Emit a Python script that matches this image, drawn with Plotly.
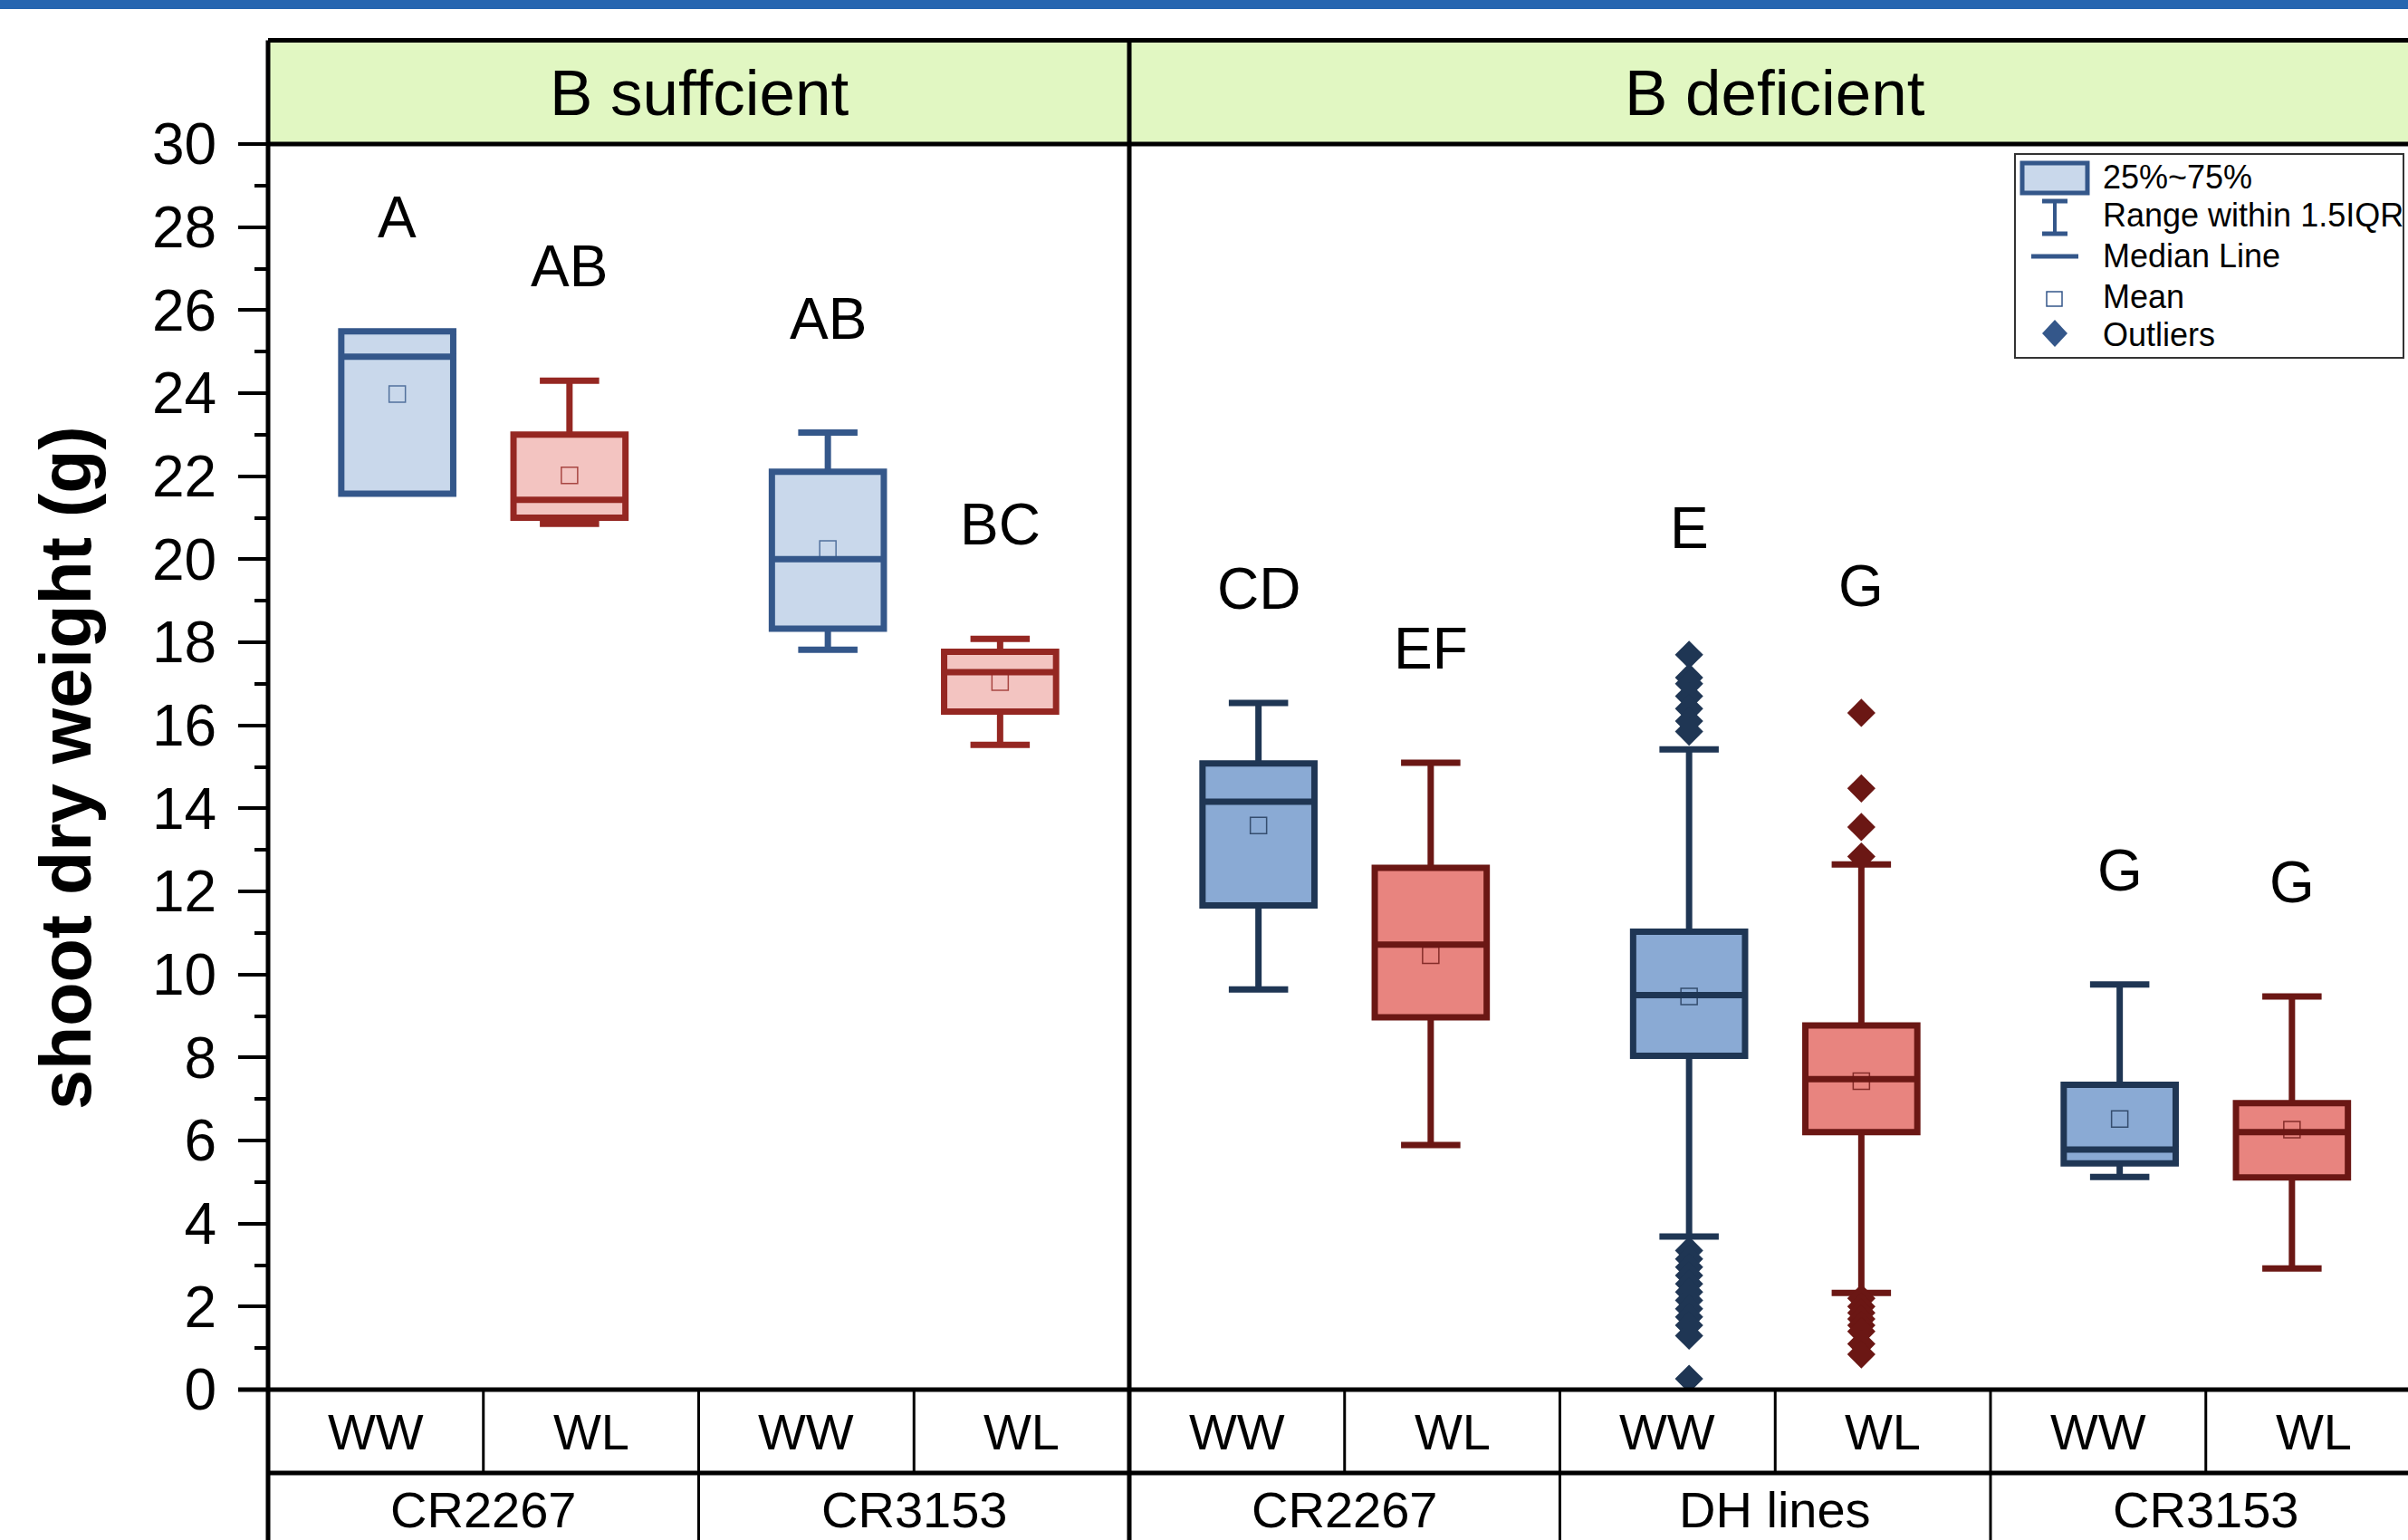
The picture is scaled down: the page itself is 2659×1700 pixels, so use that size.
import plotly.graph_objects as go

# ---------------- data ----------------
conditions = ["WW", "WL", "WW", "WL", "WW", "WL", "WW", "WL", "WW", "WL"]
genotypes = ["CR2267", "CR3153", "CR2267", "DH lines", "CR3153"]
treatments = ["B suffcient", "B deficient"]
letters = ["A", "AB", "AB", "BC", "CD", "EF", "E", "G", "G", "G"]

q1 = [21.58, 21.00, 18.33, 16.33, 11.66, 8.97, 8.04, 6.20, 5.45, 5.11]
median = [24.88, 21.43, 20.00, 17.28, 14.16, 10.72, 9.50, 7.48, 5.78, 6.20]
q3 = [25.49, 23.00, 22.11, 17.77, 15.08, 12.57, 11.03, 8.77, 7.34, 6.90]
lower = [21.58, 20.85, 17.82, 15.53, 9.64, 5.89, 3.69, 2.33, 5.12, 2.92]
upper = [25.49, 24.30, 23.05, 18.08, 16.54, 15.10, 15.42, 12.65, 9.76, 9.47]
mean = [23.98, 22.02, 20.25, 17.04, 13.59, 10.46, 9.47, 7.43, 6.52, 6.26]

outliers_dh_ww = [17.70, 17.15, 17.0, 16.7, 16.4, 16.1, 15.85,
                  3.35, 3.15, 2.95, 2.75, 2.55, 2.35, 2.15, 1.95, 1.75, 1.55, 1.3, 0.26]
outliers_dh_wl = [16.3, 14.48, 13.55, 12.84,
                  2.2, 2.0, 1.85, 1.7, 1.55, 1.4, 1.1, 0.85]
outliers = [[], [], [], [], [], [], outliers_dh_ww, outliers_dh_wl, [], []]

# ---------------- styling ----------------
FONT = "Arial, Liberation Sans, sans-serif"
line_cols = {("suf", "WW"): "#34578a", ("suf", "WL"): "#952722",
             ("def", "WW"): "#1f3654", ("def", "WL"): "#6b1714"}
fill_cols = {("suf", "WW"): "#c9d8eb", ("suf", "WL"): "#f3c4c1",
             ("def", "WW"): "#8aaad4", ("def", "WL"): "#e8847f"}

W_PX, H_PX = 2659, 1700
L, T, B, R = 296, 159, 1534, 2659
PW, PH = R - L, B - T
CAT_W = 237.75


def px(xp):
    return (xp - L) / PW


def py(yp):
    return (B - yp) / PH


fig = go.Figure()

for i, cond in enumerate(conditions):
    panel = "suf" if i < 4 else "def"
    key = (panel, cond)
    xpos = i + (0.1 if cond == "WW" else -0.1)
    fig.add_trace(go.Box(
        x=[xpos], q1=[q1[i]], median=[median[i]], q3=[q3[i]],
        lowerfence=[lower[i]], upperfence=[upper[i]],
        width=0.52, whiskerwidth=0.53, boxpoints=False,
        line=dict(color=line_cols[key], width=7),
        fillcolor=fill_cols[key], showlegend=False, hoverinfo="skip"))
    fig.add_trace(go.Scatter(
        x=[xpos], y=[mean[i]], mode="markers", showlegend=False, hoverinfo="skip",
        marker=dict(symbol="square-open", size=18, color=line_cols[key],
                    line=dict(width=1.5, color=line_cols[key]), opacity=0.8)))
    if outliers[i]:
        fig.add_trace(go.Scatter(
            x=[xpos] * len(outliers[i]), y=outliers[i], mode="markers",
            showlegend=False, hoverinfo="skip",
            marker=dict(symbol="diamond", size=24, color=line_cols[key],
                        line=dict(width=0))))
    top = max([upper[i]] + outliers[i])
    gap = 3.05 if outliers[i] else 2.75
    fig.add_annotation(x=xpos, y=top + gap, text=letters[i], showarrow=False,
                       xref="x", yref="y", yanchor="middle",
                       font=dict(family=FONT, size=64, color="black"))

shapes = []
BLK = "black"
# top blue stripe
shapes.append(dict(type="rect", xref="paper", yref="paper", x0=px(0), x1=1,
                   y0=py(10), y1=py(0), fillcolor="#2766b0", line=dict(width=0), layer="above"))
# header band
shapes.append(dict(type="rect", xref="paper", yref="paper", x0=0, x1=1,
                   y0=1, y1=py(44.5), fillcolor="#e1f7c2", line=dict(width=0), layer="below"))
# header top line / header bottom line
for yy in [py(44.5), 1]:
    shapes.append(dict(type="line", xref="paper", yref="paper", x0=0, x1=1,
                       y0=yy, y1=yy, line=dict(color=BLK, width=5), layer="above"))
# y=0 line and table line
shapes.append(dict(type="line", xref="paper", yref="paper", x0=px(263), x1=1,
                   y0=0, y1=0, line=dict(color=BLK, width=5), layer="above"))
shapes.append(dict(type="line", xref="paper", yref="paper", x0=0, x1=1,
                   y0=py(1626), y1=py(1626), line=dict(color=BLK, width=5), layer="above"))
# left axis line (full height)
shapes.append(dict(type="line", xref="paper", yref="paper", x0=0, x1=0,
                   y0=py(1700), y1=py(44.5), line=dict(color=BLK, width=5), layer="above"))
# panel divider
shapes.append(dict(type="line", xref="x", yref="paper", x0=3.5, x1=3.5,
                   y0=py(1700), y1=py(44.5), line=dict(color=BLK, width=5), layer="above"))
# table separators
group_bounds = [1.5, 5.5, 7.5]
for k in range(9):
    b = k + 0.5
    if b == 3.5:
        continue
    y0 = py(1700) if b in group_bounds else py(1626)
    shapes.append(dict(type="line", xref="x", yref="paper", x0=b, x1=b,
                       y0=y0, y1=0, line=dict(color=BLK, width=3), layer="above"))

# legend box & symbols
LC = "#34578a"
shapes.append(dict(type="rect", xref="paper", yref="paper", x0=px(2225), x1=px(2654),
                   y0=py(395), y1=py(170), line=dict(color="#333333", width=2),
                   fillcolor="white", layer="above"))
shapes.append(dict(type="rect", xref="paper", yref="paper", x0=px(2233), x1=px(2305),
                   y0=py(213), y1=py(180), line=dict(color=LC, width=5),
                   fillcolor="#c9d8eb", layer="above"))
shapes.append(dict(type="line", xref="paper", yref="paper", x0=px(2269), x1=px(2269),
                   y0=py(258), y1=py(222), line=dict(color=LC, width=4), layer="above"))
for yy in [222, 258]:
    shapes.append(dict(type="line", xref="paper", yref="paper", x0=px(2255), x1=px(2283),
                       y0=py(yy), y1=py(yy), line=dict(color=LC, width=5), layer="above"))
shapes.append(dict(type="line", xref="paper", yref="paper", x0=px(2243), x1=px(2295),
                   y0=py(283), y1=py(283), line=dict(color=LC, width=5), layer="above"))
shapes.append(dict(type="rect", xref="paper", yref="paper", x0=px(2260), x1=px(2277),
                   y0=py(338), y1=py(322), line=dict(color=LC, width=1.5), layer="above"))
cx, cy = 2269, 368
path = "M {:.5f},{:.5f} L {:.5f},{:.5f} L {:.5f},{:.5f} L {:.5f},{:.5f} Z".format(
    px(cx), py(cy - 15), px(cx + 14), py(cy), px(cx), py(cy + 15), px(cx - 14), py(cy))
shapes.append(dict(type="path", xref="paper", yref="paper", path=path,
                   fillcolor=LC, line=dict(width=0), layer="above"))

legend_texts = ["25%~75%", "Range within 1.5IQR", "Median Line", "Mean", "Outliers"]
legend_y = [196, 238, 283, 328, 370]
for t, yy in zip(legend_texts, legend_y):
    fig.add_annotation(x=px(2320), y=py(yy), xref="paper", yref="paper", text=t,
                       showarrow=False, xanchor="left", yanchor="middle",
                       font=dict(family=FONT, size=36, color="black"))

# header labels
for t, xc in zip(treatments, [1.5, 6.5]):
    fig.add_annotation(x=xc, y=py(102), xref="x", yref="paper", text=t, showarrow=False,
                       yanchor="middle", font=dict(family=FONT, size=71, color="black"))
# category labels
for i, c in enumerate(conditions):
    fig.add_annotation(x=i, y=py(1580), xref="x", yref="paper", text=c, showarrow=False,
                       yanchor="middle", font=dict(family=FONT, size=56, color="black"))
for g, name in enumerate(genotypes):
    fig.add_annotation(x=2 * g + 0.5, y=py(1666), xref="x", yref="paper", text=name,
                       showarrow=False, yanchor="middle",
                       font=dict(family=FONT, size=56, color="black"))
# y title
fig.add_annotation(x=px(73), y=py(848), xref="paper", yref="paper",
                   text="<b>shoot dry weight (g)</b>", textangle=-90, showarrow=False,
                   xanchor="center", yanchor="middle",
                   font=dict(family=FONT, size=79, color="black"))

fig.update_layout(
    width=W_PX, height=H_PX, autosize=False,
    margin=dict(l=L, r=W_PX - R, t=T, b=H_PX - B, pad=0),
    paper_bgcolor="white", plot_bgcolor="white",
    shapes=shapes, showlegend=False,
    xaxis=dict(range=[-0.5, -0.5 + PW / CAT_W], showticklabels=False, ticks="",
               showgrid=False, zeroline=False, showline=False, fixedrange=True),
    yaxis=dict(range=[0, 30], tickvals=list(range(0, 31, 2)), ticks="outside",
               ticklen=32, tickwidth=4, tickcolor="black", showgrid=False,
               zeroline=False, showline=False, ticklabelstandoff=11,
               tickfont=dict(family=FONT, size=64, color="black"),
               minor=dict(ticks="outside", ticklen=14, tickwidth=4, tickcolor="black",
                          dtick=1, showgrid=False)),
)

fig.write_html("out.html", config={"displayModeBar": False},
               post_script="document.body.style.margin='0';document.body.style.overflow='hidden';")
